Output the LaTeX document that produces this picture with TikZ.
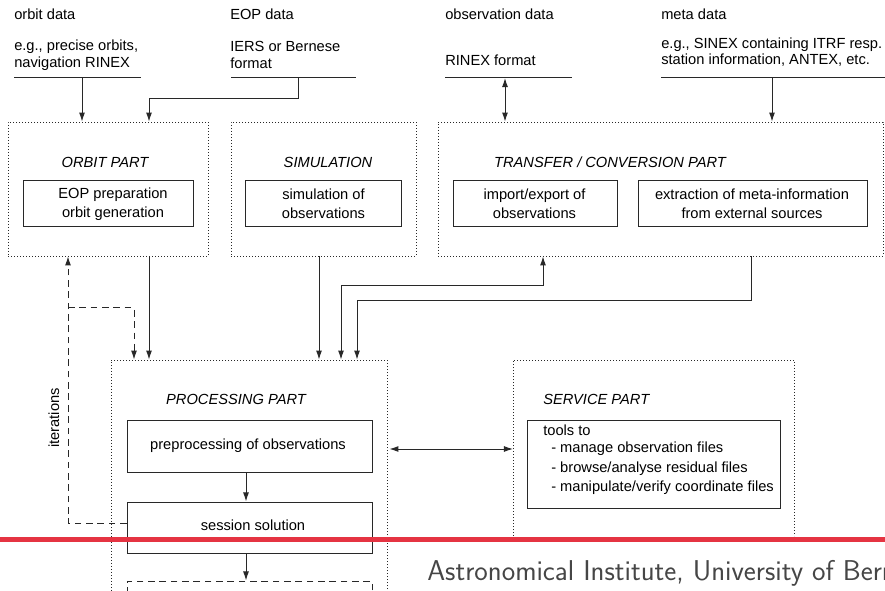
\documentclass[tikz,border=0pt]{standalone}
\usepackage{fontspec}
\setmainfont{Liberation Sans}
\usetikzlibrary{arrows.meta,fit}
\definecolor{redbar}{RGB}{229,52,66}
\definecolor{linegray}{RGB}{40,40,40}
\definecolor{footgray}{RGB}{70,70,70}
\begin{document}
\begin{tikzpicture}[x=0.75pt,y=-0.75pt,
  txt/.style={font=\fontsize{11}{12.4}\selectfont, inner sep=0, anchor=west, align=left},
  boxtxt/.style={font=\fontsize{11}{14.5}\selectfont, inner sep=0, align=center},
  ttl/.style={font=\fontsize{11}{13}\selectfont\itshape, inner sep=0},
  part/.style={draw=linegray, dash pattern=on 0.6pt off 1.65pt, line width=0.6pt, inner sep=0},
  stepbox/.style={draw=linegray, line width=0.75pt, inner sep=0},
  conn/.style={draw=linegray, line width=0.75pt},
  arr/.style={conn, -{Latex[length=6.8pt,width=4.5pt]}},
  darr/.style={conn, {Latex[length=6.8pt,width=4.5pt]}-{Latex[length=6.8pt,width=4.5pt]}},
  dsh/.style={dash pattern=on 5pt off 3.5pt},
]
\path[use as bounding box] (0,0) rectangle (885,591);
\clip (0,0) rectangle (885,591);

% ---------- top data descriptions ----------
\node[txt] (t1) at (14,14) {orbit data};
\node[txt] (t1b) at (14,55) {e.g., precise orbits,\\navigation RINEX};
\coordinate (u1a) at (14,78); \coordinate (u1b) at (141,78);
\draw[conn] (u1a) -- (u1b);

\node[txt] (t2) at (230,14) {EOP data};
\node[txt] (t2b) at (230,55) {IERS or Bernese\\format};
\coordinate (u2a) at (231,78); \coordinate (u2b) at (356,78);
\draw[conn] (u2a) -- (u2b);

\node[txt] (t3) at (445,14) {observation data};
\node[txt] (t3b) at (445,60) {RINEX format};
\coordinate (u3a) at (445,78); \coordinate (u3b) at (572,78);
\draw[conn] (u3a) -- (u3b);

\node[txt] (t4) at (661,14) {meta data};
\node[txt] (t4b) at (661,52) {e.g., SINEX containing ITRF resp.\\station information, ANTEX, etc.};
\coordinate (u4a) at (661,78); \coordinate (u4b) at (890,78);
\draw[conn] (u4a) -- (u4b);

% ---------- upper parts ----------
\node[part, fit={(8,122) (208,256)}] (orbit) {};
\node[ttl] (orbitT) at (105,162) {ORBIT PART};
\node[stepbox, fit={(23,181) (193,227)}] (orbitB) {};
\node[boxtxt] (orbitBt) at (113,204) {EOP preparation\\orbit generation};

\node[part, fit={(231,122) (416,256)}] (sim) {};
\node[ttl] (simT) at (328,162) {SIMULATION};
\node[stepbox, fit={(245,181) (401,227)}] (simB) {};
\node[boxtxt] (simBt) at (323.5,204) {simulation of\\observations};

\node[part, fit={(438,122) (883,256)}] (trans) {};
\node[ttl] (transT) at (610,162) {TRANSFER / CONVERSION PART};
\node[stepbox, fit={(453,181) (617,227)}] (impB) {};
\node[boxtxt] (impBt) at (534.5,204) {import/export of\\observations};
\node[stepbox, fit={(638,181) (867,227)}] (extB) {};
\node[boxtxt] (extBt) at (752,204) {extraction of meta-information\\from external sources};

% ---------- processing part ----------
\node[part, fit={(111,360) (387,640)}] (proc) {};
\node[ttl] (procT) at (236,399) {PROCESSING PART};
\node[stepbox, fit={(127,420) (372,472)}] (pre) {};
\node[boxtxt] (pret) at (248,446) {preprocessing of observations};
\node[stepbox, fit={(127,502) (372,553)}] (sess) {};
\node[boxtxt] (sesst) at (253,525) {session solution};
\node[draw=linegray, line width=0.75pt, dsh, inner sep=0, fit={(127,581) (372,640)}] (next) {};

% ---------- service part ----------
\draw[draw=linegray, dash pattern=on 0.6pt off 1.65pt, line width=0.6pt]
  (513,536) -- (513,360) -- (794,360) -- (794,536);
\coordinate (servW) at (513,449);
\node[ttl, anchor=west] (servT) at (543,399) {SERVICE PART};
\node[stepbox, fit={(527,420) (780,508)}] (tools) {};
\node[txt] (tl0) at (543,430) {tools to};
\node[txt] (tl1) at (551,449) {- manage observation files};
\node[txt] (tl2) at (551,469) {- browse/analyse residual files};
\node[txt] (tl3) at (551,488) {- manipulate/verify coordinate files};

% ---------- connectors from the data ----------
\coordinate (d1) at (82,78);
\draw[arr] (d1) -- (d1 |- orbit.north);
\coordinate (d2) at (298,78);
\coordinate (d2b) at (149,99);
\draw[arr] (d2) |- (d2b) -- (d2b |- orbit.north);
\coordinate (d3) at (505,78);
\draw[darr] (d3) -- (d3 |- trans.north);
\coordinate (d4) at (772,78);
\draw[arr] (d4) -- (d4 |- trans.north);

% ---------- connectors to processing ----------
\coordinate (c1) at (149,256);
\draw[arr] (c1) -- (c1 |- proc.north);
\coordinate (c2) at (319,256);
\draw[arr] (c2) -- (c2 |- proc.north);
\coordinate (c3a) at (341,286);
\coordinate (c3b) at (543,286);
\draw[darr] (c3a |- proc.north) -- (c3a) -- (c3b) -- (c3b |- trans.south);
\coordinate (c4a) at (751,301);
\coordinate (c4b) at (357,301);
\draw[arr] (c4a |- trans.south) -- (c4a) -- (c4b) -- (c4b |- proc.north);

% ---------- inside processing ----------
\coordinate (p1) at (246,472);
\draw[arr] (p1) -- (p1 |- sess.north);
\coordinate (p2) at (246,553);
\draw[arr] (p2) -- (p2 |- next.north);
\draw[darr] (proc.east |- servW) ++(2,0) -- (servW);

% ---------- iterations ----------
\coordinate (it1) at (68,523);
\coordinate (it2) at (68,308);
\coordinate (it3) at (134,308);
\draw[arr, dsh] (sess.west |- it1) -- (it1) -- (it1 |- orbit.south);
\draw[arr, dsh] (it2) -- (it3) -- (it3 |- proc.north);
\node[font=\fontsize{11}{13}\selectfont, rotate=90, inner sep=0] (iter) at (54,418) {iterations};

% ---------- footer ----------
\fill[white] (395,542) rectangle (885,591);
\fill[redbar] (0,536.5) rectangle (885,541.5);
\node[font=\sffamily\fontsize{21.5}{24}\selectfont, text=footgray, anchor=base west, inner sep=0] (foot) at (427,580) {Astronomical Institute, University of Bern};
\end{tikzpicture}
\end{document}
